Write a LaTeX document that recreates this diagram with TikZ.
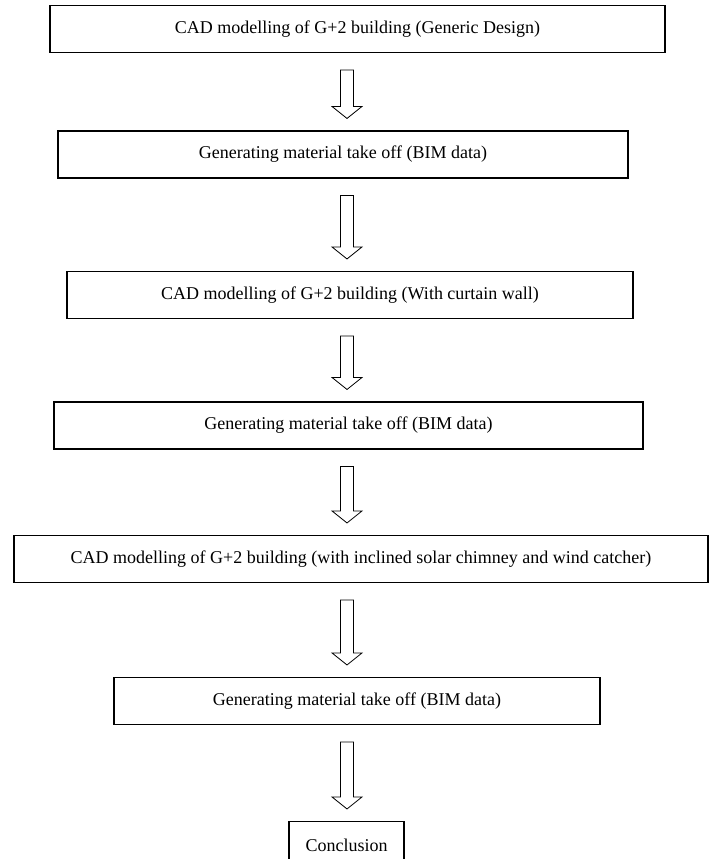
\documentclass[tikz,border=0pt]{standalone}
\usepackage{fontspec}
\setmainfont{Liberation Serif}
\usetikzlibrary{calc}

\tikzset{
  stagebox/.style={draw, rectangle, inner sep=0pt, minimum height=35.25pt,
    line width=0.8pt, font=\fontsize{13.5}{16}\selectfont},
  blockarr/.style={draw, line width=0.6pt, line join=miter},
}

% hollow block arrow between two boxes, on the column (col)
\newcommand{\flowarrow}[2]{%
  \draw[blockarr] ($(#1.south -| col)+(-6.5,-17)$) -- ($(#2.north -| col)+(-6.5,24)$)
    -- ($(#2.north -| col)+(-15,24)$) -- ($(#2.north -| col)+(0,12)$)
    -- ($(#2.north -| col)+(15,24)$) -- ($(#2.north -| col)+(6.5,24)$)
    -- ($(#1.south -| col)+(6.5,-17)$) -- cycle;}

\begin{document}
\begin{tikzpicture}[x=0.75pt, y=0.75pt]
  \useasboundingbox (0,0) rectangle (709,859);
  \coordinate (col) at (347,0);
  \node[stagebox, minimum width=461.25pt] (cad1) at (357.5,830) {CAD modelling of G+2 building (Generic Design)};
  \node[stagebox, minimum width=427.5pt] (mto1) at (343,704.5) {Generating material take off (BIM data)};
  \node[stagebox, minimum width=424.5pt] (cad2) at (350,564) {CAD modelling of G+2 building (With curtain wall)};
  \node[stagebox, minimum width=441.75pt] (mto2) at (348.5,433.5) {Generating material take off (BIM data)};
  \node[stagebox, minimum width=520.5pt] (cad3) at (361,300) {CAD modelling of G+2 building (with inclined solar chimney and wind catcher)};
  \node[stagebox, minimum width=364.5pt] (mto3) at (357,158) {Generating material take off (BIM data)};
  \node[stagebox, minimum width=86.25pt] (concl) at (346.5,14) {Conclusion};
  \flowarrow{cad1}{mto1}
  \flowarrow{mto1}{cad2}
  \flowarrow{cad2}{mto2}
  \flowarrow{mto2}{cad3}
  \flowarrow{cad3}{mto3}
  \flowarrow{mto3}{concl}
\end{tikzpicture}
\end{document}
